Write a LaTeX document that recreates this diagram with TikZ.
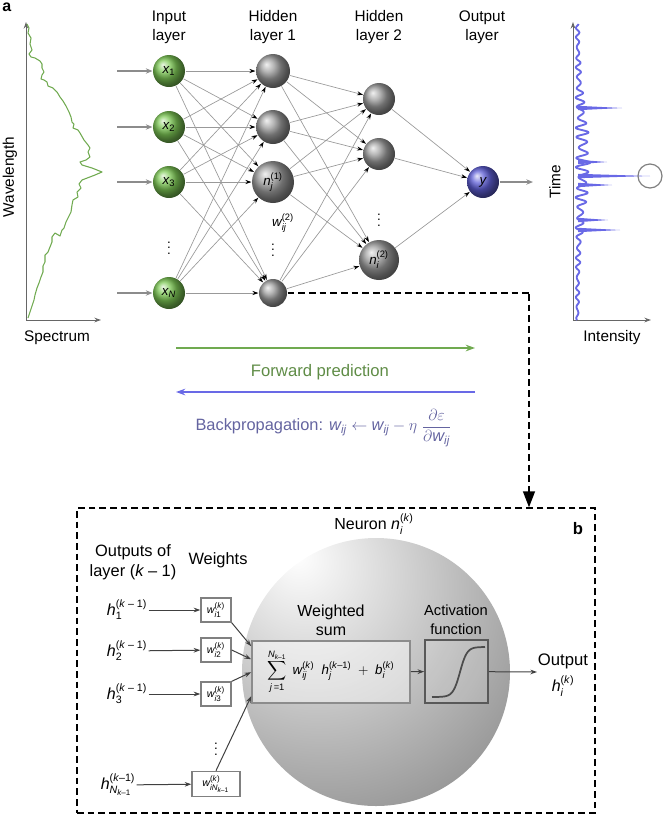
\documentclass[tikz,border=0pt]{standalone}
\usepackage{amsmath}
\usepackage{fontspec}
\setmainfont{Liberation Sans}
\usetikzlibrary{arrows.meta,calc}

\definecolor{ballgreen}{RGB}{125,200,85}
\definecolor{ballblue}{RGB}{95,95,215}
\definecolor{specgreen}{RGB}{112,170,80}
\definecolor{specblue}{RGB}{105,105,230}
\definecolor{fwdtext}{RGB}{95,140,70}
\definecolor{bcktext}{RGB}{100,100,160}

\newcommand{\vit}[1]{\textit{#1}}

\pgfdeclareradialshading{neuronshade}{\pgfpoint{-15bp}{22bp}}{color(0bp)=(white); color(8bp)=(white!92!black); color(40bp)=(black!40); color(62bp)=(black!60); color(90bp)=(black!68)}

\tikzset{every picture/.style={line width=0.75pt}}

\begin{document}
\begin{tikzpicture}[x=0.75pt,y=0.75pt,yscale=-1,xscale=1,
  lbl/.style={font=\fontsize{11.5}{14.5}\selectfont, align=center, inner sep=0.75pt},
  blbl/.style={font=\fontsize{11}{14}\selectfont, align=center, inner sep=0.75pt},
  inball/.style={circle, ball color=ballgreen, minimum size=24pt, inner sep=0pt, font=\fontsize{10}{12}\selectfont},
  hidball/.style={circle, ball color=black!38, minimum size=25.5pt, inner sep=0pt, font=\fontsize{10}{12}\selectfont},
  outball/.style={circle, ball color=ballblue, minimum size=24pt, inner sep=0pt, font=\fontsize{10}{12}\selectfont},
  link/.style={draw=black!40, line width=0.5pt, -{Stealth[length=4.5pt,width=3pt,color=black]}},
  feed/.style={draw=black!45, line width=0.9pt, -{Stealth[length=5pt,width=4pt]}},
  axisline/.style={draw=black!60, line width=0.75pt, -{Stealth[length=5pt,width=3.5pt]}},
  wbox/.style={draw=black!50, fill=white, line width=1pt, minimum width=22.5pt, minimum height=18pt, inner sep=1pt, font=\fontsize{8}{9}\selectfont},
  harrow/.style={draw=black!75, line width=0.75pt, -{Stealth[length=5pt,width=3.5pt]}},
  vdot/.style={inner sep=0pt, font=\fontsize{10}{12}\selectfont},
  ]
\useasboundingbox (0,0) rectangle (663,815);

% Panel label
\node[anchor=north west, inner sep=0pt, font=\bfseries\fontsize{12}{14}\selectfont] (pa) at (2,2) {a};

%Input spectrum
\coordinate (sporig) at (26,320);
\coordinate (sptop) at (26,22);
\coordinate (spright) at (101,320);
\draw[axisline] (sporig) -- (sptop);
\draw[axisline] (sporig) -- (spright);
\draw[specgreen, line width=0.8pt, line join=round] plot coordinates {(27,24) (29,28) (28,33) (31,38) (30,44) (32,50) (29,54) (31,57) (35,58) (40,61) (42,64) (42,68) (44,72) (42,75) (41,79) (44,80) (47,82) (48,86) (53,88) (57,92) (60,97) (63,101) (66,106) (69,112) (71,117) (72,122) (74,124) (73,128) (78,130) (80,133) (84,140) (88,145) (90,148) (88,152) (90,157) (86,160) (80,162) (82,165) (92,168) (102,172) (95,175) (82,180) (79,184) (81,188) (77,192) (78,197) (73,200) (72,205) (71,212) (68,218) (66,222) (64,228) (62,230) (60,236) (55,233) (52,237) (52,242) (50,247) (48,252) (45,255) (45,262) (43,266) (43,272) (41,277) (39,283) (37,288) (35,295) (34,300) (32,306) (30,312) (28,318)};
% Text Node
\node[lbl, rotate=90] (wl) at (10,177) {Wavelength};
% Text Node
\node[lbl] (sp) at (57,338) {Spectrum};

%Layer titles
\node[lbl] (tin) at (169,27) {Input\\layer};
\node[lbl] (th1) at (273,27) {Hidden\\layer 1};
\node[lbl] (th2) at (379,27) {Hidden\\layer 2};
\node[lbl] (tout) at (482,27) {Output\\layer};

%Input layer
\node[inball] (x1) at (169,71) {$\vit{x}_{\text{1}}$};
\node[inball] (x2) at (169,127) {$\vit{x}_{\text{2}}$};
\node[inball] (x3) at (169,182) {$\vit{x}_{\text{3}}$};
\node[inball] (xN) at (169,293) {$\vit{x}_{\vit{N}}$};
\node[vdot] (xdots) at (169,244) {$\vdots$};

%Hidden layer 1
\node[hidball] (a1) at (273,71) {};
\node[hidball] (a2) at (273,127) {};
\node[hidball, minimum size=31.5pt] (a3) at (273,182) {$\vit{n}_{\vit{j}}^{\text{(1)}}$};
\node[hidball, minimum size=21pt] (a4) at (273,293) {};
\node[inner sep=0pt, font=\fontsize{10}{12}\selectfont] (wij) at (283,223) {$\vit{w}_{\vit{ij}}^{\text{(2)}}$};
\node[vdot] (adots) at (273,246) {$\vdots$};

%Hidden layer 2
\node[hidball, minimum size=24pt] (b1) at (379,99) {};
\node[hidball, minimum size=24pt] (b2) at (379,154) {};
\node[hidball, minimum size=30pt] (b3) at (379,260) {$\vit{n}_{\vit{i}}^{\text{(2)}}$};
\node[vdot] (bdots) at (379,216) {$\vdots$};

%Output layer
\node[outball] (y) at (483,182) {$\vit{y}$};

%Connections
\foreach \i in {x1,x2,x3,xN}
  \foreach \j in {a1,a2,a3,a4}
    \draw[link] (\i) -- (\j);
\foreach \i in {a1,a2,a3,a4}
  \foreach \j in {b1,b2,b3}
    \draw[link] (\i) -- (\j);
\foreach \i in {b1,b2,b3}
  \draw[link] (\i) -- (y);

%Input arrows
\foreach \n/\yy in {x1/71,x2/127,x3/182,xN/293}{
  \coordinate (in\n) at (117,\yy);
  \draw[feed] (in\n) -- (\n);
}
\coordinate (yout) at (533,182);
\draw[feed] (y) -- (yout);

%Output spectrum
\coordinate (torig) at (573,320);
\coordinate (ttop) at (573,22);
\coordinate (tright) at (651,320);
\draw[axisline] (torig) -- (ttop);
\draw[axisline] (torig) -- (tright);
\draw[specblue, line width=1.4pt, line join=round] plot[domain=24:320, samples=420, variable=\t] ({576+(1.2+4.5*exp(-((\t-160)/70)^2))*(1.2+sin(\t*36)+0.3*sin(\t*47))}, \t);
\foreach \sy/\sx in {108/622,162/607,176/650,185/612,220/608,230/620}
  \fill[specblue] (578,\sy-2.2) -- (\sx,\sy) -- (578,\sy+2.2) -- cycle;
\node[circle, draw=black!50, line width=0.9pt, minimum size=18pt, inner sep=0pt] (peak) at (650,176) {};
% Text Node
\node[lbl, rotate=90] (tm) at (555,182) {Time};
% Text Node
\node[lbl] (it) at (612,338) {Intensity};

%Forward and backward passes
\coordinate (fwdL) at (176,348);
\coordinate (fwdR) at (475,348);
\draw[specgreen, line width=1.1pt, -{Stealth[length=7pt,width=5pt]}] (fwdL) -- (fwdR);
\node[lbl, text=fwdtext, font=\fontsize{12.5}{14}\selectfont] (fwd) at (320,372) {Forward prediction};
\coordinate (bckR) at (475,392);
\coordinate (bckL) at (176,392);
\draw[specblue, line width=1.1pt, -{Stealth[length=7pt,width=5pt]}] (bckR) -- (bckL);
\node[lbl, anchor=west, text=bcktext, font=\fontsize{12.3}{14}\selectfont] (bck) at (194,428) {Backpropagation: $\vit{w}_{\vit{ij}}\leftarrow\vit{w}_{\vit{ij}}-\eta\;\dfrac{\partial\varepsilon}{\partial\vit{w}_{\vit{ij}}}$};

%Panel b frame
\node[draw, dash pattern=on 5pt off 3pt, line width=1.1pt, minimum width=388.5pt, minimum height=228.75pt, inner sep=0pt] (frame) at (336,660.5) {};
\node[anchor=center, inner sep=0pt, font=\bfseries\fontsize{12.5}{14}\selectfont] (pb) at (578,529) {b};

%Link from panel a to panel b
\coordinate (bend) at (529,294);
\draw[dash pattern=on 5pt off 3pt, line width=1.1pt] (a4) -- (a4 -| bend) -- (bend);
\draw[dash pattern=on 5pt off 3pt, line width=1.1pt, -{Triangle[length=12pt,width=9pt]}] (bend) -- (bend |- frame.north);

%Neuron
\node[circle, shading=neuronshade, minimum size=201pt, inner sep=0pt] (neuron) at (376,672) {};
\node[blbl, font=\fontsize{12}{14}\selectfont] (nlbl) at (374,524) {Neuron $\vit{n}_{\vit{i}}^{\text{(\textit{k})}}$};
\node[blbl, font=\fontsize{12}{14.5}\selectfont] (wst) at (331,620) {Weighted\\sum};
\node[blbl] (actt) at (456,620) {Activation\\function};
\node[draw=black!45, line width=1.2pt, fill=white, fill opacity=0.45, text opacity=1, minimum width=118.5pt, minimum height=46.5pt, inner sep=0pt, font=\fontsize{10}{12}\selectfont] (wsum) at (331,672) {$\displaystyle\sum_{\vit{j}\,\text{=1}}^{\vit{N}_{\vit{k}\text{–1}}}\;\vit{w}_{\vit{ij}}^{\text{(\textit{k})}}\;\;\vit{h}_{\vit{j}}^{\text{(\textit{k}–1)}}\;+\;\vit{b}_{\vit{i}}^{\text{(\textit{k})}}$};
\node[draw=black!65, line width=1.2pt, fill=white, fill opacity=0.15, minimum width=47.25pt, minimum height=47.25pt, inner sep=0pt] (act) at (456.5,671.5) {};
\draw[black!70, line width=1.3pt] plot[domain=432:485, samples=60] (\x, {697-50/(1+exp(-(\x-460)/3.5))});
\draw[harrow] (wsum) -- (act);
\coordinate (outend) at (537,672);
\draw[harrow] (act) -- (outend);
\node[blbl, font=\fontsize{12.5}{14}\selectfont] (outt) at (563,661) {Output};
\node[blbl, font=\fontsize{12}{14}\selectfont] (outh) at (563,686) {$\vit{h}_{\vit{i}}^{\text{(\textit{k})}}$};

%Inputs to neuron
\node[blbl, font=\fontsize{12.3}{15}\selectfont] (tprev) at (133,562) {Outputs of\\layer ($\vit{k}$ – 1)};
\node[blbl, font=\fontsize{12.3}{15}\selectfont] (twts) at (218,560) {Weights};
\node[blbl, font=\fontsize{12}{14}\selectfont] (h1) at (127,610) {$\vit{h}_{\text{1}}^{\text{(\textit{k} – 1)}}$};
\node[blbl, font=\fontsize{12}{14}\selectfont] (h2) at (127,651) {$\vit{h}_{\text{2}}^{\text{(\textit{k} – 1)}}$};
\node[blbl, font=\fontsize{12}{14}\selectfont] (h3) at (127,694) {$\vit{h}_{\text{3}}^{\text{(\textit{k} – 1)}}$};
\node[blbl, font=\fontsize{12}{14}\selectfont] (hN) at (118,785) {$\vit{h}_{\vit{N}_{\vit{k}\text{–1}}}^{\text{(\textit{k}–1)}}$};
\node[wbox] (wb1) at (216,610) {$\vit{w}_{\vit{i}\text{1}}^{\text{(\textit{k})}}$};
\node[wbox] (wb2) at (216,650) {$\vit{w}_{\vit{i}\text{2}}^{\text{(\textit{k})}}$};
\node[wbox] (wb3) at (216,694) {$\vit{w}_{\vit{i}\text{3}}^{\text{(\textit{k})}}$};
\node[wbox, minimum width=36pt, minimum height=19pt] (wbN) at (216,784) {$\vit{w}_{\vit{iN}_{\vit{k}\text{–1}}}^{\text{(\textit{k})}}$};
\node[vdot] (wdots) at (216,745) {$\vdots$};
\draw[harrow] (h1) -- (wb1);
\draw[harrow] (h2) -- (wb2);
\draw[harrow] (h3) -- (wb3);
\draw[harrow] (hN) -- (wbN);
\draw[harrow] (wb1.south east) -- ($(wsum.north west)+(0,6)$);
\draw[harrow] (wb2.east) -- ($(wsum.north west)+(0,19)$);
\draw[harrow] (wb3.north east) -- ($(wsum.north west)+(0,32)$);
\draw[harrow] (wbN.north) -- ($(wsum.north west)+(0,56)$);

\end{tikzpicture}
\end{document}
